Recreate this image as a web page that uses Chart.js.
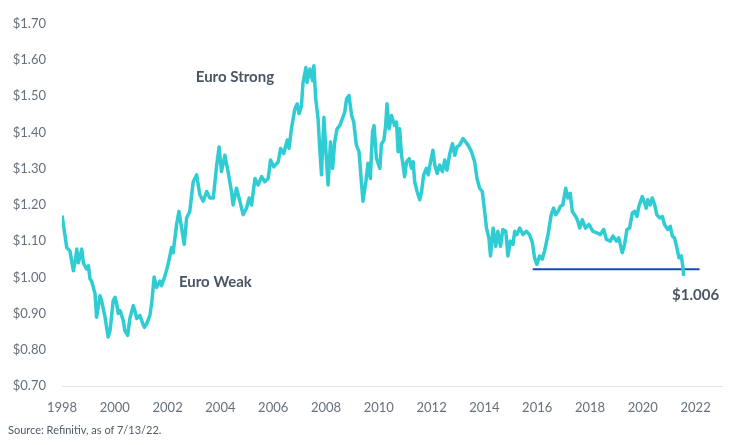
<!DOCTYPE html>
<html>
<head>
<meta charset="utf-8">
<title>EUR/USD</title>
<script src="https://cdn.jsdelivr.net/npm/chart.js@4"></script>
<style>
  html, body { margin: 0; padding: 0; background: #fff; }
  .wrap { position: relative; width: 732px; height: 445px; }
  .source { position: absolute; left: 8px; top: 423px; font: 11px Lato, sans-serif; color: #4f5a66; }
</style>
</head>
<body>
<div class="wrap">
  <canvas id="chart" width="732" height="445"></canvas>
  <div class="source">Source: Refinitiv, as of 7/13/22.</div>
</div>
<script>
// position on the axis (axis labels run 1998..2022)
const years = [
  1998.00, 1998.09, 1998.18, 1998.30, 1998.43, 1998.52, 1998.56, 1998.62, 1998.75, 1998.81,
  1998.93, 1999.00, 1999.06, 1999.12, 1999.25, 1999.31, 1999.44, 1999.50, 1999.63, 1999.75,
  1999.82, 1999.94, 2000.01, 2000.07, 2000.13, 2000.20, 2000.32, 2000.38, 2000.49, 2000.57,
  2000.70, 2000.76, 2000.83, 2000.95, 2001.04, 2001.12, 2001.21, 2001.33, 2001.40, 2001.49,
  2001.58, 2001.71, 2001.77, 2001.90, 2002.02, 2002.15, 2002.21, 2002.34, 2002.43, 2002.53,
  2002.63, 2002.72, 2002.84, 2002.97, 2003.10, 2003.22, 2003.35, 2003.48, 2003.60, 2003.73,
  2003.86, 2003.95, 2004.04, 2004.17, 2004.29, 2004.42, 2004.48, 2004.61, 2004.74, 2004.86,
  2004.99, 2005.09, 2005.18, 2005.31, 2005.43, 2005.56, 2005.68, 2005.81, 2005.90, 2006.02,
  2006.19, 2006.28, 2006.40, 2006.53, 2006.60, 2006.69, 2006.82, 2006.91, 2006.98, 2007.07,
  2007.13, 2007.24, 2007.28, 2007.39, 2007.49, 2007.54, 2007.61, 2007.70, 2007.77, 2007.83,
  2007.92, 2007.99, 2008.08, 2008.17, 2008.25, 2008.33, 2008.42, 2008.52, 2008.62, 2008.71,
  2008.78, 2008.87, 2008.97, 2009.05, 2009.15, 2009.25, 2009.34, 2009.40, 2009.51, 2009.59,
  2009.68, 2009.76, 2009.82, 2009.91, 2010.04, 2010.10, 2010.19, 2010.26, 2010.31, 2010.39,
  2010.48, 2010.60, 2010.67, 2010.73, 2010.79, 2010.86, 2010.92, 2010.98, 2011.05, 2011.15,
  2011.24, 2011.30, 2011.36, 2011.45, 2011.55, 2011.62, 2011.70, 2011.80, 2011.87, 2011.96,
  2012.05, 2012.12, 2012.21, 2012.31, 2012.41, 2012.50, 2012.58, 2012.69, 2012.79, 2012.88,
  2012.96, 2013.06, 2013.19, 2013.29, 2013.38, 2013.51, 2013.63, 2013.72, 2013.82, 2013.92,
  2014.01, 2014.08, 2014.17, 2014.23, 2014.33, 2014.43, 2014.51, 2014.61, 2014.70, 2014.81,
  2014.89, 2014.98, 2015.08, 2015.15, 2015.23, 2015.34, 2015.46, 2015.59, 2015.71, 2015.82,
  2015.90, 2015.99, 2016.09, 2016.19, 2016.28, 2016.41, 2016.53, 2016.62, 2016.70, 2016.79,
  2016.88, 2016.97, 2017.08, 2017.16, 2017.25, 2017.33, 2017.46, 2017.54, 2017.61, 2017.71,
  2017.83, 2017.96, 2018.11, 2018.26, 2018.39, 2018.52, 2018.62, 2018.77, 2018.87, 2019.00,
  2019.09, 2019.22, 2019.31, 2019.40, 2019.50, 2019.60, 2019.69, 2019.78, 2019.85, 2019.98,
  2020.07, 2020.13, 2020.19, 2020.28, 2020.36, 2020.45, 2020.53, 2020.64, 2020.74, 2020.82,
  2020.95, 2021.04, 2021.12, 2021.20, 2021.29, 2021.37, 2021.46, 2021.52, 2021.55
];

// dollars per euro
const eurusd = [
  1.171, 1.127, 1.082, 1.073, 1.018, 1.054, 1.078, 1.040, 1.078, 1.040,
  1.023, 1.032, 0.996, 0.990, 0.955, 0.890, 0.949, 0.936, 0.890, 0.835,
  0.853, 0.936, 0.945, 0.927, 0.900, 0.908, 0.881, 0.853, 0.840, 0.886,
  0.922, 0.908, 0.886, 0.895, 0.876, 0.862, 0.872, 0.895, 0.931, 1.001,
  0.972, 0.990, 0.977, 1.004, 1.036, 1.082, 1.068, 1.146, 1.182, 1.136,
  1.091, 1.164, 1.182, 1.264, 1.283, 1.228, 1.210, 1.237, 1.219, 1.219,
  1.310, 1.360, 1.292, 1.337, 1.292, 1.237, 1.200, 1.246, 1.210, 1.173,
  1.191, 1.219, 1.200, 1.273, 1.255, 1.278, 1.264, 1.273, 1.324, 1.305,
  1.319, 1.356, 1.342, 1.379, 1.356, 1.410, 1.465, 1.479, 1.452, 1.474,
  1.538, 1.579, 1.538, 1.575, 1.543, 1.584, 1.493, 1.438, 1.347, 1.283,
  1.442, 1.356, 1.255, 1.374, 1.301, 1.374, 1.410, 1.419, 1.438, 1.456,
  1.493, 1.502, 1.447, 1.429, 1.365, 1.347, 1.264, 1.210, 1.264, 1.315,
  1.273, 1.401, 1.419, 1.328, 1.301, 1.369, 1.378, 1.419, 1.479, 1.410,
  1.447, 1.419, 1.429, 1.347, 1.410, 1.337, 1.310, 1.278, 1.319, 1.328,
  1.301, 1.319, 1.264, 1.237, 1.214, 1.237, 1.283, 1.301, 1.283, 1.319,
  1.351, 1.310, 1.287, 1.310, 1.292, 1.324, 1.296, 1.342, 1.369, 1.337,
  1.360, 1.365, 1.383, 1.374, 1.365, 1.347, 1.319, 1.273, 1.246, 1.237,
  1.182, 1.136, 1.109, 1.059, 1.136, 1.086, 1.127, 1.086, 1.132, 1.127,
  1.059, 1.100, 1.091, 1.127, 1.118, 1.136, 1.118, 1.127, 1.118, 1.095,
  1.054, 1.036, 1.059, 1.050, 1.073, 1.118, 1.173, 1.191, 1.173, 1.182,
  1.196, 1.200, 1.246, 1.219, 1.232, 1.182, 1.168, 1.155, 1.136, 1.159,
  1.136, 1.146, 1.127, 1.123, 1.118, 1.132, 1.105, 1.100, 1.114, 1.100,
  1.109, 1.068, 1.091, 1.132, 1.136, 1.177, 1.182, 1.168, 1.196, 1.223,
  1.205, 1.191, 1.214, 1.200, 1.219, 1.200, 1.173, 1.164, 1.168, 1.146,
  1.132, 1.141, 1.114, 1.109, 1.082, 1.054, 1.059, 1.027, 1.004
];

// support line near parity
const supportYears = [2015.83, 2022.15];
const supportLevel = [1.0225, 1.0225];

const notes = [
  { text: "Euro Strong", x: 2004.55, y: 1.552 },
  { text: "Euro Weak", x: 2003.81, y: 0.988 },
  { text: "$1.006", x: 2022.0, y: 0.952 }
];

const tickFont = { family: "Lato, sans-serif", size: 13 };
const tickColor = "#66707b";

const notesPlugin = {
  id: "notes",
  afterDatasetsDraw(chart) {
    const { ctx, scales } = chart;
    ctx.save();
    ctx.font = "bold 15px Lato, sans-serif";
    ctx.fillStyle = "#4a5663";
    ctx.textAlign = "center";
    ctx.textBaseline = "middle";
    notes.forEach((n) => {
      ctx.fillText(n.text, scales.x.getPixelForValue(n.x), scales.y.getPixelForValue(n.y));
    });
    ctx.restore();
  },
};

new Chart(document.getElementById("chart"), {
  type: "line",
  data: {
    datasets: [
      {
        label: "EUR/USD",
        data: years.map((x, i) => ({ x, y: eurusd[i] })),
        borderColor: "#2fcdd3",
        borderWidth: 3.5,
        borderJoinStyle: "round",
        pointRadius: 0,
        tension: 0,
      },
      {
        label: "Support",
        data: supportYears.map((x, i) => ({ x, y: supportLevel[i] })),
        borderColor: "#1848b8",
        borderWidth: 2,
        pointRadius: 0,
      },
    ],
  },
  options: {
    responsive: false,
    animation: false,
    layout: { padding: { top: 21, right: 10, bottom: 29, left: 0 } },
    plugins: { legend: { display: false }, tooltip: { enabled: false } },
    scales: {
      x: {
        type: "linear",
        min: 1998,
        max: 2023,
        grid: { display: false, drawTicks: false },
        border: { display: true, color: "#e2e2e2", width: 1 },
        ticks: {
          stepSize: 2,
          includeBounds: false,
          autoSkip: false,
          maxRotation: 0,
          padding: 14,
          color: tickColor,
          font: tickFont,
          callback: (v) => String(v),
        },
        afterFit: (s) => { s.height = 30; },
      },
      y: {
        min: 0.7,
        max: 1.7,
        grid: { display: false, drawTicks: false },
        border: { display: false },
        ticks: {
          stepSize: 0.1,
          padding: 16,
          color: tickColor,
          font: tickFont,
          callback: (v) => "$" + v.toFixed(2),
        },
        afterFit: (s) => { s.width = 62; },
      },
    },
  },
  plugins: [notesPlugin],
});
</script>
</body>
</html>
